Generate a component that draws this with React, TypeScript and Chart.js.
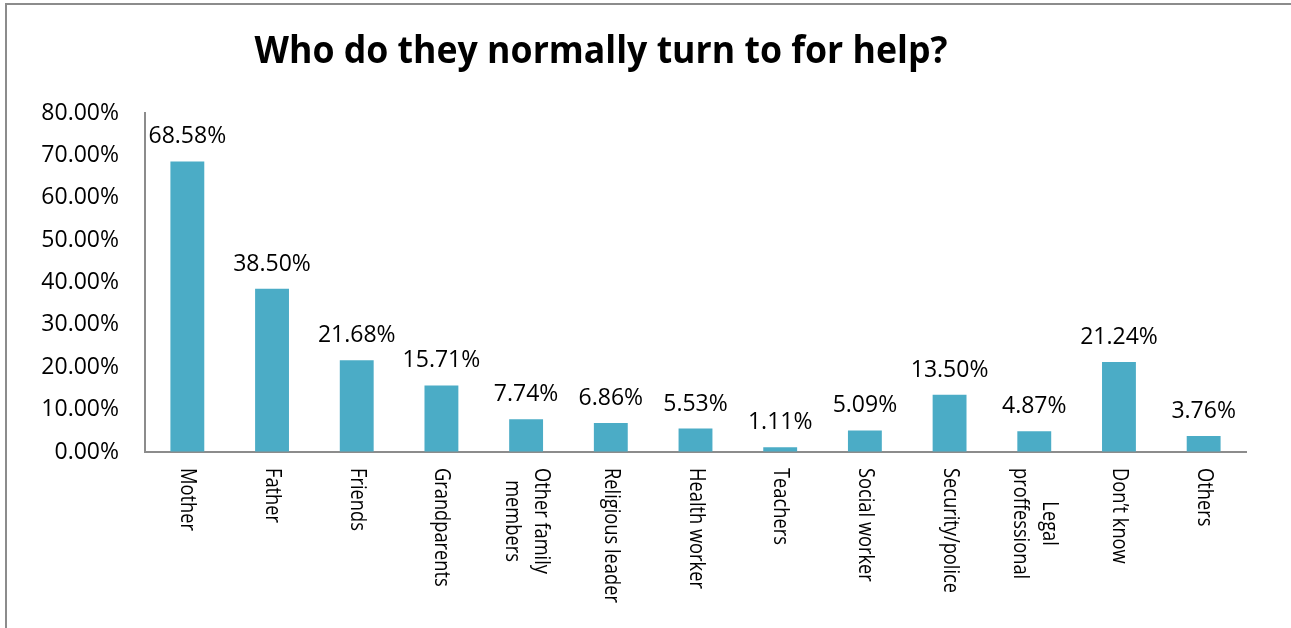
import { useEffect, useRef } from "react";
import { Chart, registerables } from "chart.js";
Chart.register(...registerables);

const titleText = "Who do they normally turn to for help?";
const categories: string[][] = [
  ["Mother"],
  ["Father"],
  ["Friends"],
  ["Grandparents"],
  ["Other family", "members"],
  ["Religious leader"],
  ["Health worker"],
  ["Teachers"],
  ["Social worker"],
  ["Security/police"],
  ["Legal", "proffessional"],
  ["Don\u2019t know"],
  ["Others"],
];
const values: number[] = [68.58, 38.5, 21.68, 15.71, 7.74, 6.86, 5.53, 1.11, 5.09, 13.5, 4.87, 21.24, 3.76];
const yMin = 0;
const yMax = 80;
const yStep = 10;

const FONT = "'Open Sans', sans-serif";

const labelsPlugin = {
  id: "customText",
  afterDraw(chart: any) {
    const ctx = chart.ctx as CanvasRenderingContext2D;
    const xScale = chart.scales.x;
    const meta = chart.getDatasetMeta(0);
    ctx.save();
    // title
    ctx.fillStyle = "#000";
    ctx.font = `bold 38px ${FONT}`;
    const tw = ctx.measureText(titleText).width;
    const sx = 693 / tw;
    ctx.save();
    ctx.translate(601, 63);
    ctx.scale(sx, 1);
    ctx.textAlign = "center";
    ctx.textBaseline = "alphabetic";
    ctx.fillText(titleText, 0, 0);
    ctx.restore();

    // value labels
    ctx.font = `23px ${FONT}`;
    ctx.textAlign = "center";
    ctx.textBaseline = "alphabetic";
    meta.data.forEach((bar: any, i: number) => {
      ctx.fillText(values[i].toFixed(2) + "%", bar.x, bar.y - 18);
    });

    // category labels (rotated clockwise)
    ctx.font = `21px ${FONT}`;
    const lh = 29;
    const squeeze = 0.87;
    categories.forEach((lines, i) => {
      const x = xScale.getPixelForValue(i);
      const maxW = Math.max(...lines.map((l) => ctx.measureText(l).width));
      ctx.save();
      ctx.translate(x, 468);
      ctx.rotate(Math.PI / 2);
      ctx.scale(squeeze, 1);
      ctx.textAlign = "center";
      ctx.textBaseline = "middle";
      lines.forEach((line, j) => {
        ctx.fillText(line, maxW / 2, (j - (lines.length - 1) / 2) * lh);
      });
      ctx.restore();
    });
    ctx.restore();
  },
};

export default function App() {
  const ref = useRef<HTMLCanvasElement>(null);
  useEffect(() => {
    const chart = new Chart(ref.current as HTMLCanvasElement, {
      type: "bar",
      data: {
        labels: categories.map((c) => c.join(" ")),
        datasets: [
          {
            data: values,
            backgroundColor: "#4BACC6",
            barPercentage: 0.4,
            categoryPercentage: 1,
          },
        ],
      },
      options: {
        responsive: false,
        animation: false,
        layout: { padding: { top: 113, right: 45, left: 0, bottom: 0 } },
        plugins: {
          legend: { display: false },
          title: { display: false },
          tooltip: { enabled: false },
        },
        scales: {
          x: {
            grid: { display: true, drawOnChartArea: false, drawTicks: false },
            border: { display: true, color: "#8c8c8c", width: 2 },
            ticks: { display: false },
            afterFit: (s: any) => {
              s.height = 628 - 452;
            },
          },
          y: {
            min: yMin,
            max: yMax,
            grid: { display: true, drawOnChartArea: false, drawTicks: false },
            border: { display: true, color: "#8c8c8c", width: 2 },
            ticks: {
              stepSize: yStep,
              padding: 26,
              color: "#000",
              font: { family: FONT, size: 23 },
              callback: (v: any) => Number(v).toFixed(2) + "%",
            },
            afterFit: (s: any) => {
              s.width = 145;
            },
          },
        },
      },
      plugins: [labelsPlugin],
    });
    return () => chart.destroy();
  }, []);
  return (
    <div style={{ position: "fixed", left: 0, top: 0, width: 1291, height: 628, background: "#fff", overflow: "hidden" }}>
      <div
        style={{
          position: "absolute",
          left: 5,
          top: 3,
          width: 1400,
          height: 700,
          borderLeft: "2px solid #8c8c8c",
          borderTop: "2px solid #8c8c8c",
        }}
      />
      <canvas ref={ref} width={1291} height={628} style={{ position: "absolute", left: 0, top: 0 }} />
    </div>
  );
}
